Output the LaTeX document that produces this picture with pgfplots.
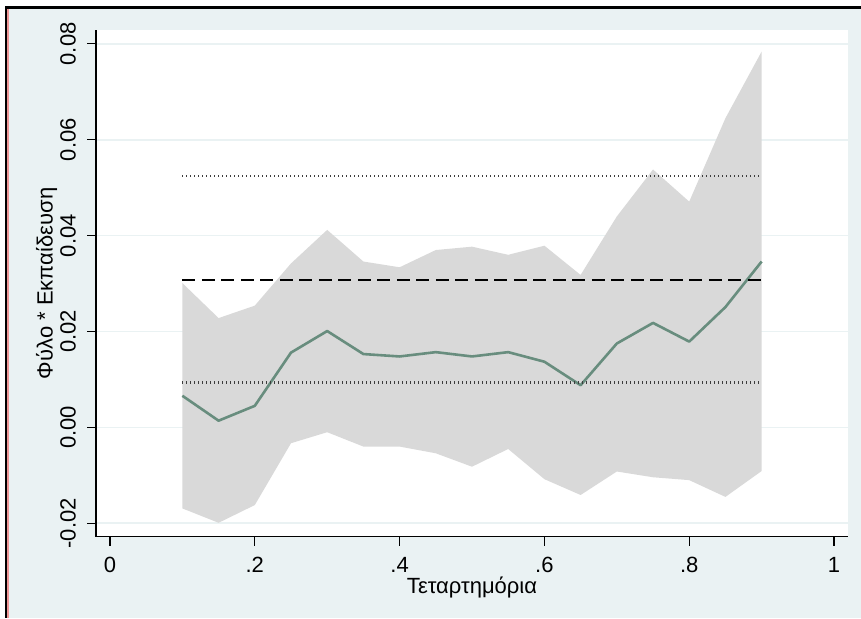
\documentclass[border=0pt]{standalone}
\usepackage{pgfplots}
\pgfplotsset{compat=1.18}
\usepackage{pgfplotstable}
\usepackage{fontspec}
\setmainfont{Liberation Sans}

\definecolor{bgcol}{RGB}{234,242,243}
\definecolor{gridcol}{RGB}{234,242,243}
\definecolor{estcol}{RGB}{104,141,126}
\definecolor{bandcol}{RGB}{217,217,217}
\definecolor{framered}{RGB}{238,150,150}
\definecolor{dotcol}{RGB}{60,60,60}

% quantile and point estimate
\pgfplotstableread{
q     est
0.10  0.0066
0.15  0.0014
0.20  0.0045
0.25  0.0156
0.30  0.0201
0.35  0.0153
0.40  0.0148
0.45  0.0157
0.50  0.0148
0.55  0.0157
0.60  0.0137
0.65  0.0088
0.70  0.0175
0.75  0.0218
0.80  0.0179
0.85  0.0251
0.90  0.0346
}\est

% confidence band outline: upper bound left to right, lower bound right to left
\pgfplotstableread{
q     b
0.10  0.0301
0.15  0.0228
0.20  0.0254
0.25  0.0342
0.30  0.0412
0.35  0.0346
0.40  0.0334
0.45  0.0370
0.50  0.0377
0.55  0.0360
0.60  0.0379
0.65  0.0318
0.70  0.0440
0.75  0.0538
0.80  0.0471
0.85  0.0645
0.90  0.0784
0.90 -0.0091
0.85 -0.0145
0.80 -0.0110
0.75 -0.0104
0.70 -0.0092
0.65 -0.0141
0.60 -0.0108
0.55 -0.0045
0.50 -0.0082
0.45 -0.0054
0.40 -0.0040
0.35 -0.0040
0.30 -0.0010
0.25 -0.0033
0.20 -0.0162
0.15 -0.0199
0.10 -0.0169
}\band

\newcommand{\lblfont}{\fontsize{22}{26}\selectfont}

\begin{document}
\lblfont
\begin{tikzpicture}
\path[use as bounding box] (0pt,0pt) rectangle (861pt,618pt);
\fill[white] (0pt,0pt) rectangle (861pt,618pt);
\fill[bgcol] (5pt,0pt) rectangle (861pt,612pt);
\fill[black] (5pt,609pt) rectangle (861pt,612pt);
\fill[black] (5pt,0pt) rectangle (7.3pt,612pt);
\fill[framered] (7.3pt,0pt) rectangle (8.7pt,609pt);

\begin{axis}[
  at={(96pt,81.3pt)}, anchor=south west,
  scale only axis, width=752pt, height=506.7pt,
  xmin=-0.0193, xmax=1.0193, ymin=-0.0228, ymax=0.0829,
  axis background/.style={fill=white},
  axis x line*=bottom, axis y line*=left,
  axis line style={black, line width=1.2pt, -},
  tick style={black, line width=1.2pt},
  tick align=outside, major tick length=9pt,
  scaled y ticks=false, scaled x ticks=false,
  xtick={0,0.2,0.4,0.6,0.8,1},
  xticklabels={0,.2,.4,.6,.8,1},
  ytick={-0.02,0,0.02,0.04,0.06,0.08},
  yticklabels={-0.02,0.00,0.02,0.04,0.06,0.08},
  ymajorgrids=true,
  major grid style={gridcol, line width=1.6pt},
  /pgf/number format/assume math mode=true,
  tick label style={font=\lblfont},
  yticklabel style={rotate=90, anchor=south, inner sep=0pt},
  yticklabel shift=11pt,
  xticklabel style={anchor=north, inner sep=0pt},
  xticklabel shift=11pt,
  xlabel={Τεταρτημόρια},
  ylabel={Φύλο * Εκπαίδευση},
  label style={font=\lblfont},
  xlabel style={at={(axis description cs:0.5,-0.1117)}, anchor=base, inner sep=0pt},
  ylabel style={at={(axis description cs:-0.0576,0.5)}, anchor=base, inner sep=0pt, rotate=0},
]
\addplot[fill=bandcol, draw=none] table[x=q, y=b] {\band} -- cycle;

\addplot[estcol, line width=2.6pt, line join=round] table[x=q, y=est] {\est};

\addplot[black, line width=2.3pt, dash pattern=on 13pt off 6.5pt] coordinates {(0.1,0.0308) (0.9,0.0308)};
\addplot[dotcol, line width=2.4pt, dash pattern=on 0.8pt off 3.2pt] coordinates {(0.1,0.0525) (0.9,0.0525)};
\addplot[dotcol, line width=2.4pt, dash pattern=on 0.8pt off 3.2pt] coordinates {(0.1,0.0094) (0.9,0.0094)};
\end{axis}
\end{tikzpicture}
\end{document}
